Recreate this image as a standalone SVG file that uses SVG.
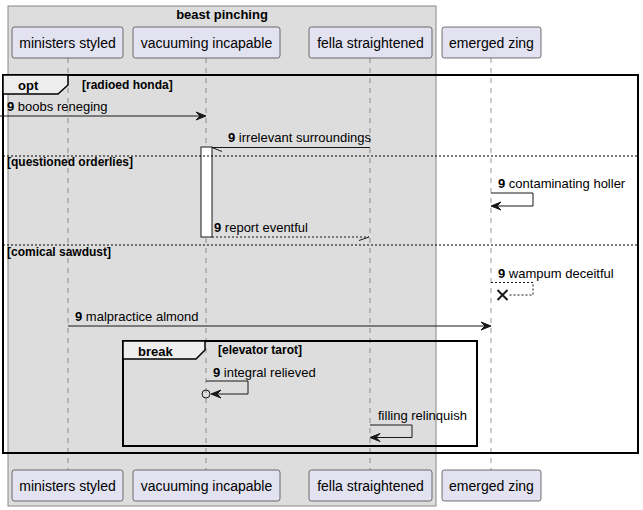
<svg xmlns="http://www.w3.org/2000/svg" width="643" height="510" viewBox="0 0 643 510">
<style>
text{font-family:"Liberation Sans",Arial,sans-serif;fill:#000}
.p{fill:#E2E2F0;stroke:#181818;stroke-width:0.6}
.pt{font-size:14px;text-anchor:middle}
.life{stroke:#555;stroke-width:0.6;stroke-dasharray:5,5;fill:none}
.m{font-size:13px}
.b{font-weight:bold}
.g{font-size:12px;font-weight:bold}
.ln{stroke:#181818;stroke-width:1;fill:none}
.dl{stroke:#181818;stroke-width:1;fill:none;stroke-dasharray:2,2}
.x{stroke:#181818;stroke-width:2;fill:none}
.ah{fill:#181818;stroke:#181818;stroke-width:1}
.frame{fill:none;stroke:#000;stroke-width:2}
.tab{fill:#EEEEEE;stroke:#000;stroke-width:1.5}
.sep{stroke:#000;stroke-width:1;stroke-dasharray:2,2}
</style>
<g id="box-beast-pinching">
<rect x="8" y="6" width="428" height="500" fill="#DDDDDD" stroke="#888888" stroke-width="1"/>
<text x="222" y="19" class="b" font-size="13" text-anchor="middle">beast pinching</text>
</g>
<g id="lifelines">
<line class="life" x1="68" y1="58" x2="68" y2="470"/>
<line class="life" x1="206" y1="58" x2="206" y2="470"/>
<line class="life" x1="370" y1="58" x2="370" y2="470"/>
<line class="life" x1="491" y1="58" x2="491" y2="470"/>
</g>
<g id="ministers-styled">
<rect class="p" x="12" y="27" width="111" height="31" rx="2.5"/>
<text class="pt" x="67.5" y="48">ministers styled</text>
<rect class="p" x="12" y="470" width="111" height="31" rx="2.5"/>
<text class="pt" x="67.5" y="491">ministers styled</text>
</g>
<g id="vacuuming-incapable">
<rect class="p" x="133" y="27" width="147" height="31" rx="2.5"/>
<text class="pt" x="206.5" y="48">vacuuming incapable</text>
<rect class="p" x="133" y="470" width="147" height="31" rx="2.5"/>
<text class="pt" x="206.5" y="491">vacuuming incapable</text>
</g>
<g id="fella-straightened">
<rect class="p" x="309" y="27" width="123" height="31" rx="2.5"/>
<text class="pt" x="370.5" y="48">fella straightened</text>
<rect class="p" x="309" y="470" width="123" height="31" rx="2.5"/>
<text class="pt" x="370.5" y="491">fella straightened</text>
</g>
<g id="emerged-zing">
<rect class="p" x="442" y="27" width="99" height="31" rx="2.5"/>
<text class="pt" x="491.5" y="48">emerged zing</text>
<rect class="p" x="442" y="470" width="99" height="31" rx="2.5"/>
<text class="pt" x="491.5" y="491">emerged zing</text>
</g>
<g id="activation">
<rect x="201" y="147" width="11" height="90" fill="#FFFFFF" stroke="#181818" stroke-width="1"/>
</g>
<g id="opt-frame">
<rect class="frame" x="3" y="75" width="635" height="378"/>
<path class="tab" d="M3,75 H68 V85 L58,94 H3 Z"/>
<text class="b" x="18" y="90" font-size="13">opt</text>
<text class="g" x="82" y="89">[radioed honda]</text>
<line class="sep" x1="3" y1="156" x2="638" y2="156"/>
<text class="g" x="7" y="166">[questioned orderlies]</text>
<line class="sep" x1="3" y1="245" x2="638" y2="245"/>
<text class="g" x="7" y="256">[comical sawdust]</text>
</g>
<g id="break-frame">
<rect class="frame" x="123" y="341" width="354" height="105"/>
<path class="tab" d="M123,341 H205 V350 L196,359 H123 Z"/>
<text class="b" x="138" y="356" font-size="13">break</text>
<text class="g" x="218" y="354">[elevator tarot]</text>
</g>
<g id="connectors">
<line class="ln" x1="0" y1="116" x2="204" y2="116"/>
<polygon class="ah" points="206,116 196,112 200,116 196,120"/>
<text class="m" x="7" y="111"><tspan class="b">9</tspan> boobs reneging</text>

<line class="ln" x1="212" y1="147.5" x2="370" y2="147.5"/>
<line class="ln" x1="212" y1="147.5" x2="222" y2="151.5"/>
<text class="m" x="228" y="142"><tspan class="b">9</tspan> irrelevant surroundings</text>

<path class="ln" d="M491,193 H533 V206 H493"/>
<polygon class="ah" points="491,206 501,202 497,206 501,210"/>
<text class="m" x="498" y="188"><tspan class="b">9</tspan> contaminating holler</text>

<line class="dl" x1="212" y1="237" x2="369" y2="237"/>
<line class="ln" x1="369" y1="237" x2="359" y2="240.5"/>
<text class="m" x="214" y="232"><tspan class="b">9</tspan> report eventful</text>

<path class="dl" d="M491,282.5 H533 V295 H508"/>
<path class="x" d="M497.5,290 L507.5,300 M497.5,300 L507.5,290"/>
<text class="m" x="498" y="278"><tspan class="b">9</tspan> wampum deceitful</text>

<line class="ln" x1="68" y1="326" x2="489" y2="326"/>
<polygon class="ah" points="491,326 481,322 485,326 481,330"/>
<text class="m" x="75" y="321"><tspan class="b">9</tspan> malpractice almond</text>

<path class="ln" d="M206,381 H248 V394 H212"/>
<polygon class="ah" points="211,394 221,390 217,394 221,398"/>
<circle cx="206" cy="394" r="4" fill="none" stroke="#181818" stroke-width="1"/>
<text class="m" x="213" y="377"><tspan class="b">9</tspan> integral relieved</text>

<path class="ln" d="M370,425 H412 V437.5 H372"/>
<polygon class="ah" points="370,437.5 380,433.5 376,437.5 380,441.5"/>
<text class="m" x="378" y="420">filling relinquish</text>
</g>
</svg>
